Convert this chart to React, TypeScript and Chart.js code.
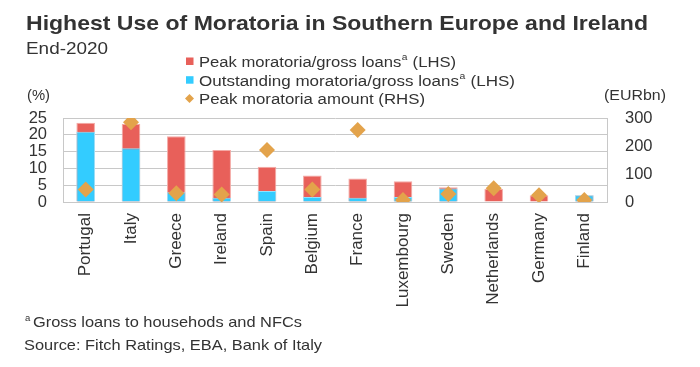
import React, { useEffect, useRef } from "react";
import { Chart, registerables } from "chart.js";

Chart.register(...registerables);

const countries = ["Portugal", "Italy", "Greece", "Ireland", "Spain", "Belgium", "France", "Luxembourg", "Sweden", "Netherlands", "Germany", "Finland"];
const peakShare = [23.6, 23.2, 19.6, 15.5, 10.5, 7.9, 7.0, 6.2, 4.4, 3.9, 2.0, 2.0];
const outstandingShare = [20.9, 16.0, 2.9, 1.3, 3.3, 1.5, 1.3, 1.5, 4.0, 0, 0, 2.0];
const peakAmount = [45, 285, 31, 27, 186, 45, 257, 7, 29, 49, 24, 7];
const leftTicks = [0, 5, 10, 15, 20, 25];
const rightTicks = [0, 100, 200, 300];

const RED = "#E8605A";
const BLUE = "#33CCFF";
const GOLD = "#E3A34B";
const TEXT = "#333333";
const FONT = "'Liberation Sans', Arial, sans-serif";

function fitText(ctx: CanvasRenderingContext2D, text: string, x: number, y: number, width: number) {
  const w = ctx.measureText(text).width;
  ctx.save();
  ctx.translate(x, y);
  ctx.scale(width / w, 1);
  ctx.fillText(text, 0, 0);
  ctx.restore();
}

const textPlugin = {
  id: "texts",
  afterDraw(chart: any) {
    const ctx = chart.ctx as CanvasRenderingContext2D;
    ctx.save();
    ctx.fillStyle = TEXT;
    ctx.textBaseline = "alphabetic";
    ctx.textAlign = "left";
    ctx.font = `bold 21px ${FONT}`;
    fitText(ctx, "Highest Use of Moratoria in Southern Europe and Ireland", 26, 29.5, 622);
    ctx.font = `17px ${FONT}`;
    fitText(ctx, "End-2020", 26, 54, 82);

    const legend = [
      { color: RED, text: "Peak moratoria/gross loans", sup: "a", tail: " (LHS)", shape: "sq", end: 456 },
      { color: BLUE, text: "Outstanding moratoria/gross loans", sup: "a", tail: " (LHS)", shape: "sq", end: 515 },
      { color: GOLD, text: "Peak moratoria amount (RHS)", sup: "", tail: "", shape: "dia", end: 425 },
    ];
    legend.forEach((l, i) => {
      const cy = 61 + i * 18.7;
      ctx.fillStyle = l.color;
      if (l.shape === "sq") {
        ctx.fillRect(186, cy - 3.5, 7.5, 7.5);
      } else {
        ctx.beginPath();
        ctx.moveTo(189.5, cy - 4.5);
        ctx.lineTo(194, cy);
        ctx.lineTo(189.5, cy + 4.5);
        ctx.lineTo(185, cy);
        ctx.closePath();
        ctx.fill();
      }
      ctx.fillStyle = TEXT;
      ctx.font = `15.5px ${FONT}`;
      const base = cy + 5.8;
      let total = ctx.measureText(l.text).width;
      ctx.font = `9.5px ${FONT}`;
      const supW = l.sup ? ctx.measureText(l.sup).width + 1 : 0;
      ctx.font = `15.5px ${FONT}`;
      const tailW = l.tail ? ctx.measureText(l.tail).width : 0;
      total += supW + tailW;
      const k = (l.end - 199) / total;
      ctx.save();
      ctx.translate(199, base);
      ctx.scale(k, 1);
      ctx.fillText(l.text, 0, 0);
      let x = ctx.measureText(l.text).width;
      if (l.sup) {
        ctx.font = `9.5px ${FONT}`;
        ctx.fillText(l.sup, x + 0.5, -6.5);
        x += supW;
        ctx.font = `15.5px ${FONT}`;
        ctx.fillText(l.tail, x, 0);
      }
      ctx.restore();
    });

    ctx.font = `15.5px ${FONT}`;
    fitText(ctx, "(%)", 27, 99.5, 23);
    fitText(ctx, "(EURbn)", 604, 100, 62);

    ctx.font = `9.5px ${FONT}`;
    ctx.fillText("a", 25, 320.5);
    ctx.font = `15px ${FONT}`;
    fitText(ctx, "Gross loans to househods and NFCs", 33, 326.5, 269);
    fitText(ctx, "Source: Fitch Ratings, EBA, Bank of Italy", 24, 350, 298);
    ctx.restore();
  },
};

export default function App() {
  const ref = useRef<HTMLCanvasElement>(null);
  useEffect(() => {
    if (!ref.current) return;
    const chart = new Chart(ref.current, {
      type: "bar",
      data: {
        labels: countries,
        datasets: [
          {
            type: "line",
            label: "Peak moratoria amount (RHS)",
            data: peakAmount,
            yAxisID: "y1",
            showLine: false,
            pointStyle: "rectRot",
            pointRadius: 8,
            pointBackgroundColor: GOLD,
            pointBorderColor: GOLD,
            pointBorderWidth: 0,
            order: 0,
          } as any,
          {
            label: "Outstanding moratoria/gross loans (LHS)",
            data: outstandingShare,
            backgroundColor: BLUE,
            borderColor: "#8FE3FF",
            borderWidth: 1,
            yAxisID: "y",
            grouped: false,
            barPercentage: 0.41,
            categoryPercentage: 1,
            order: 1,
          },
          {
            label: "Peak moratoria/gross loans (LHS)",
            data: peakShare,
            backgroundColor: RED,
            borderColor: "#F4A9A5",
            borderWidth: 1,
            yAxisID: "y",
            grouped: false,
            barPercentage: 0.41,
            categoryPercentage: 1,
            order: 2,
          },
        ],
      },
      plugins: [textPlugin],
      options: {
        animation: false,
        responsive: false,
        devicePixelRatio: 1,
        layout: { padding: { top: 118, left: 0, right: 0, bottom: 0 } },
        plugins: { legend: { display: false }, tooltip: { enabled: false }, title: { display: false } },
        scales: {
          x: {
            grid: { display: false, drawTicks: false },
            border: { display: true, color: "#c8c8c8" },
            ticks: {
              color: TEXT,
              font: { family: FONT, size: 17 },
              minRotation: 90,
              maxRotation: 90,
              padding: 11,
              autoSkip: false,
            },
            afterFit: (s: any) => { s.height = 165; },
          },
          y: {
            position: "left",
            min: 0,
            max: 25,
            afterBuildTicks: (s: any) => { s.ticks = leftTicks.map((v) => ({ value: v })); },
            grid: { color: "#c8c8c8", drawTicks: false },
            border: { display: true, color: "#c8c8c8" },
            ticks: { color: TEXT, font: { family: FONT, size: 16.5 }, padding: 16, autoSkip: false },
            afterFit: (s: any) => { s.width = 63; },
          },
          y1: {
            position: "right",
            min: 0,
            max: 300,
            afterBuildTicks: (s: any) => { s.ticks = rightTicks.map((v) => ({ value: v })); },
            grid: { display: false, drawTicks: false },
            border: { display: true, color: "#c8c8c8" },
            ticks: { color: TEXT, font: { family: FONT, size: 16.5 }, padding: 18, autoSkip: false },
            afterFit: (s: any) => { s.width = 93; },
          },
        },
      },
    });
    return () => chart.destroy();
  }, []);
  return (
    <div style={{ position: "absolute", left: 0, top: 0, width: 700, height: 367, background: "#fff" }}>
      <canvas ref={ref} width={700} height={367} />
    </div>
  );
}
